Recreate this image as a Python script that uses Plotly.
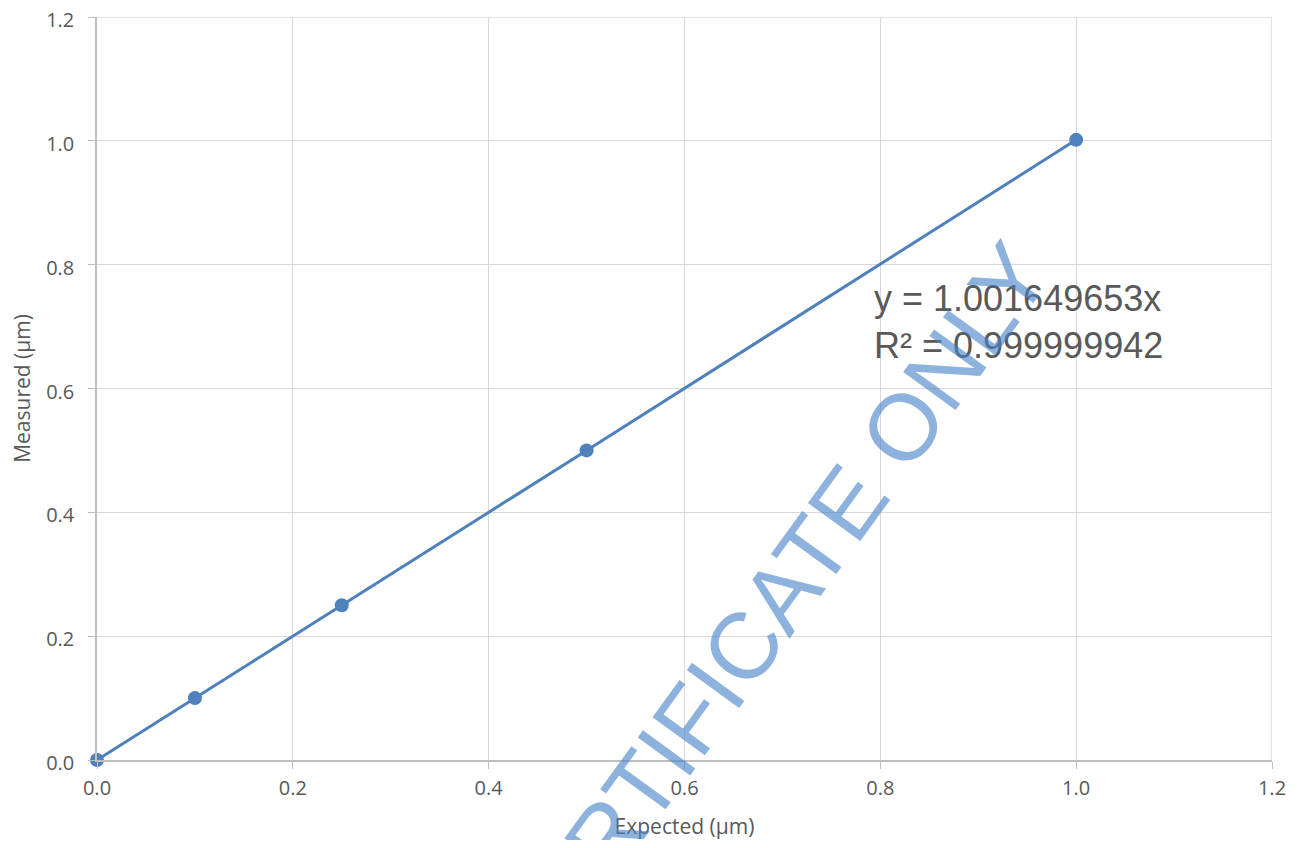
import plotly.graph_objects as go

expected = [0.0, 0.1, 0.25, 0.5, 1.0]
measured = [0.0, 0.1, 0.25, 0.5, 1.0016]
x_ticks = [0.0, 0.2, 0.4, 0.6, 0.8, 1.0, 1.2]
y_ticks = [0.0, 0.2, 0.4, 0.6, 0.8, 1.0, 1.2]
equation_text = "y = 1.001649653x<br>R² = 0.999999942"
watermark_text = "CERTIFICATE ONLY"

blue = "#4f81bd"
text_grey = "#595959"
grid_grey = "#d9d9d9"

# figure is placed inside the page body (8px default margin)
W, H = 1284, 832
L, R, T, B = 89, 20, 9, 80
PW, PH = W - L - R, H - T - B


def px_to_paper(px, py):
    # px, py are page pixel coordinates in the reference
    return (px - 8 - L) / PW, 1 - (py - 8 - T) / PH


fig = go.Figure()
fig.add_trace(go.Scatter(
    x=expected, y=measured, mode="lines+markers",
    line=dict(color=blue, width=3),
    marker=dict(color=blue, size=14),
    showlegend=False, hoverinfo="x+y", cliponaxis=False,
))

font_fam = "Open Sans, Lato, sans-serif"
axis_common = dict(
    showgrid=True, gridcolor=grid_grey, gridwidth=1,
    showline=True, linecolor="#bfbfbf", linewidth=1.5,
    ticks="outside", ticklen=7, tickcolor="#bfbfbf",
    tickfont=dict(family=font_fam, size=20, color=text_grey),
    zeroline=False, range=[0, 1.2], tickformat=".1f",
    automargin=False, ticklabeloverflow="allow",
)

fig.update_layout(
    width=W, height=H,
    margin=dict(l=L, r=R, t=T, b=B),
    paper_bgcolor="white", plot_bgcolor="white",
    xaxis=dict(**axis_common, tickvals=x_ticks, ticklabelstandoff=2,
               title=dict(text="Expected (µm)", standoff=26,
                          font=dict(family=font_fam, size=21, color=text_grey))),
    yaxis=dict(**axis_common, tickvals=y_ticks, ticklabelstandoff=10, ticklabelshift=3,
               title=dict(text="Measured (µm)", standoff=14,
                          font=dict(family=font_fam, size=21, color=text_grey))),
)

# outer gridlines at the top and right edges of the plot area
fig.add_shape(type="line", xref="x domain", yref="y", x0=0, x1=1,
              y0=y_ticks[-1], y1=y_ticks[-1], line=dict(color=grid_grey, width=1.5), layer="below")
fig.add_shape(type="line", xref="x", yref="y domain", x0=x_ticks[-1], x1=x_ticks[-1],
              y0=0, y1=1, line=dict(color=grid_grey, width=1.5), layer="below")

ex, ey = px_to_paper(872, 322)
fig.add_annotation(
    x=ex, y=ey, xref="paper", yref="paper",
    xanchor="left", yanchor="middle", align="left", showarrow=False,
    text=equation_text,
    font=dict(family="Liberation Sans, Arial, sans-serif", size=36, color=text_grey),
)
wx, wy = px_to_paper(768, 612)
fig.add_annotation(
    x=wx, y=wy, xref="paper", yref="paper",
    xanchor="center", yanchor="middle", showarrow=False,
    text=watermark_text, textangle=-54,
    font=dict(family="Liberation Sans, Arial, sans-serif", size=94, color="rgba(70,130,200,0.62)"),
)

fig.write_html("out.html")
